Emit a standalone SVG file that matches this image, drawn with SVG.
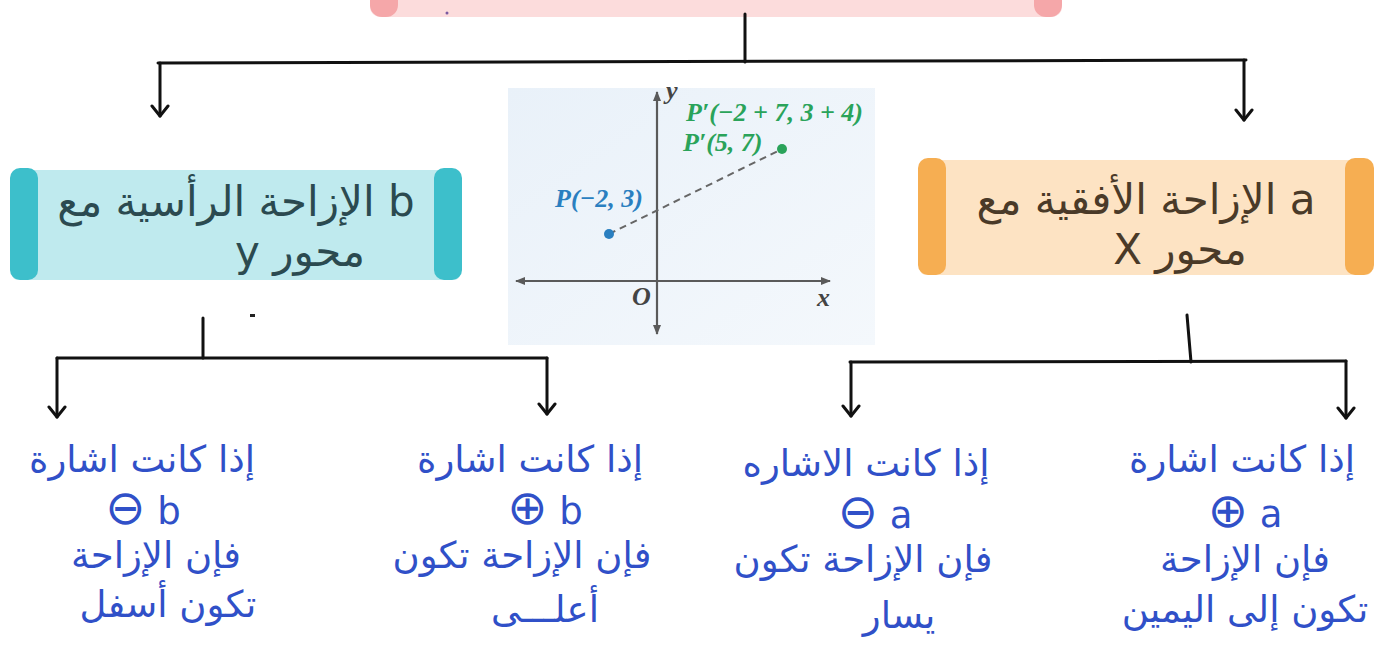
<svg xmlns="http://www.w3.org/2000/svg" width="1379" height="647" viewBox="0 0 1379 647">
<style>
.ln{fill:none;stroke:#111;stroke-width:3;stroke-linecap:round;stroke-linejoin:round}
.hd{font-family:"DejaVu Sans","Noto Sans",sans-serif;font-size:42px;text-anchor:middle}
.bt{font-family:"DejaVu Sans","Noto Sans",sans-serif;font-size:37px;fill:#3050c8;text-anchor:middle}
.sy{font-size:48px}
.mt{font-family:"Liberation Serif",serif;font-weight:bold;font-style:italic;font-size:26px}
.ax{stroke:#5a5a5a;stroke-width:2.2;fill:none}
</style>
<defs>
<marker id="ah" viewBox="0 0 20 20" refX="18" refY="10" markerWidth="20" markerHeight="20" markerUnits="userSpaceOnUse" orient="auto">
<path d="M8,2 L18,10 L8,18" fill="none" stroke="#111" stroke-width="3" stroke-linecap="round" stroke-linejoin="round"/>
</marker>
<marker id="gh" viewBox="0 0 10 10" refX="9" refY="5" markerWidth="10" markerHeight="10" markerUnits="userSpaceOnUse" orient="auto-start-reverse">
<path d="M0,1 L10,5 L0,9 Z" fill="#5a5a5a"/>
</marker>
<linearGradient id="gbg" x1="0" y1="0" x2="1" y2="1">
<stop offset="0" stop-color="#e9f1f9"/>
<stop offset="1" stop-color="#f4f8fc"/>
</linearGradient>
</defs>
<rect width="1379" height="647" fill="#ffffff"/>

<g id="top">
<rect x="370" y="-20" width="692" height="37" rx="10" fill="#fcdcdc"/>
<rect x="370" y="-20" width="28" height="37" rx="12" fill="#f5a7a9"/>
<rect x="1034" y="-20" width="28" height="37" rx="12" fill="#f5a7a9"/>
<circle cx="447" cy="13" r="1.5" fill="#7a5aa0"/>
</g>

<g id="connectors">
<path class="ln" d="M745,14 L745,62"/>
<path class="ln" d="M158,63 L1246,60"/>
<path class="ln" d="M160,63 L160,116" marker-end="url(#ah)"/>
<path class="ln" d="M1244,60 L1244,120" marker-end="url(#ah)"/>
<path class="ln" d="M203,318 L203,358"/>
<path class="ln" d="M57,358 L547,358"/>
<path class="ln" d="M57,358 L57,417" marker-end="url(#ah)"/>
<path class="ln" d="M547,358 L547,414" marker-end="url(#ah)"/>
<path class="ln" d="M1187,315 L1191,362"/>
<path class="ln" d="M850,362 L1346,361"/>
<path class="ln" d="M851,362 L851,416" marker-end="url(#ah)"/>
<path class="ln" d="M1346,361 L1346,418" marker-end="url(#ah)"/>
<rect x="250" y="314" width="5" height="3" fill="#222"/>
</g>

<g id="left-node">
<rect x="12" y="170" width="448" height="110" rx="6" fill="#bfeaee"/>
<rect x="10" y="168" width="28" height="112" rx="10" fill="#3dbfcb"/>
<rect x="434" y="168" width="28" height="112" rx="10" fill="#3dbfcb"/>
<text class="hd" x="236" y="216" fill="#2b4a50" direction="rtl" unicode-bidi="embed">b الإزاحة الرأسية مع</text>
<text class="hd" x="300" y="266" fill="#2b4a50" direction="rtl" unicode-bidi="embed">محور y</text>
</g>

<g id="graph">
<rect x="508" y="88" width="367" height="257" fill="url(#gbg)"/>
<line class="ax" x1="516" y1="281" x2="830" y2="281" marker-start="url(#gh)" marker-end="url(#gh)"/>
<line class="ax" x1="657" y1="334" x2="657" y2="92" marker-start="url(#gh)" marker-end="url(#gh)"/>
<line x1="609" y1="234" x2="782" y2="149" stroke="#666" stroke-width="2" stroke-dasharray="7,5"/>
<circle cx="609" cy="234" r="5" fill="#2a7fc0"/>
<circle cx="782" cy="149" r="5" fill="#2aa35a"/>
<text class="mt" x="666" y="99" fill="#444">y</text>
<text class="mt" x="817" y="306" fill="#444">x</text>
<text class="mt" x="632" y="305" fill="#444">O</text>
<text class="mt" x="555" y="207" fill="#2a7fc0">P(−2, 3)</text>
<text class="mt" x="686" y="121" fill="#2aa35a">P′(−2 + 7, 3 + 4)</text>
<text class="mt" x="683" y="151" fill="#2aa35a">P′(5, 7)</text>
</g>

<g id="right-node">
<rect x="920" y="160" width="452" height="115" rx="6" fill="#fde3c3"/>
<rect x="918" y="158" width="28" height="117" rx="10" fill="#f6ae52"/>
<rect x="1345" y="158" width="29" height="117" rx="10" fill="#f6ae52"/>
<text class="hd" x="1146" y="214" fill="#4a3a28" direction="rtl" unicode-bidi="embed">a الإزاحة الأفقية مع</text>
<text class="hd" x="1180" y="264" fill="#4a3a28" direction="rtl" unicode-bidi="embed">محور X</text>
</g>

<g id="n1">
<text class="bt" x="142" y="472" direction="rtl" unicode-bidi="embed">إذا كانت اشارة</text>
<text class="bt" x="143" y="524"><tspan class="sy">⊖</tspan> b</text>
<text class="bt" x="156" y="568" direction="rtl" unicode-bidi="embed">فإن الإزاحة</text>
<text class="bt" x="168" y="617" direction="rtl" unicode-bidi="embed">تكون أسفل</text>
</g>

<g id="n2">
<text class="bt" x="530" y="472" direction="rtl" unicode-bidi="embed">إذا كانت اشارة</text>
<text class="bt" x="545" y="524"><tspan class="sy">⊕</tspan> b</text>
<text class="bt" x="522" y="568" direction="rtl" unicode-bidi="embed">فإن الإزاحة تكون</text>
<text class="bt" x="545" y="622" direction="rtl" unicode-bidi="embed">أعلـــى</text>
</g>

<g id="n3">
<text class="bt" x="866" y="476" direction="rtl" unicode-bidi="embed">إذا كانت الاشاره</text>
<text class="bt" x="875" y="528"><tspan class="sy">⊖</tspan> a</text>
<text class="bt" x="863" y="572" direction="rtl" unicode-bidi="embed">فإن الإزاحة تكون</text>
<text class="bt" x="899" y="628" direction="rtl" unicode-bidi="embed">يسار</text>
</g>

<g id="n4">
<text class="bt" x="1242" y="472" direction="rtl" unicode-bidi="embed">إذا كانت اشارة</text>
<text class="bt" x="1245" y="527"><tspan class="sy">⊕</tspan> a</text>
<text class="bt" x="1245" y="572" direction="rtl" unicode-bidi="embed">فإن الإزاحة</text>
<text class="bt" x="1245" y="622" direction="rtl" unicode-bidi="embed">تكون إلى اليمين</text>
</g>
</svg>
